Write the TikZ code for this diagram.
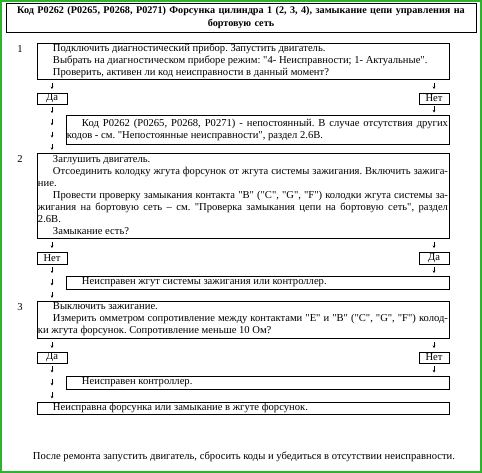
\documentclass[tikz,border=0pt]{standalone}
\usepackage{fontspec}
\setmainfont{Liberation Serif}[Ligatures=TeXOff]
\usepackage{xcolor}
\definecolor{frame-green}{RGB}{45,180,45}
\usetikzlibrary{positioning,arrows.meta,decorations.markings}
\frenchspacing

\begin{document}
\begin{tikzpicture}[
    every node/.style={inner sep=0pt, outer sep=0pt},
    bodyfont/.style={font=\fontsize{10.6}{12}\selectfont},
    stepbox/.style={
        bodyfont,
        draw=black,
        line width=0.8pt,
        anchor=north west,
        inner xsep=1pt,
        align=justify,
        execute at begin node={\parindent=15pt\relax\indent}
    },
    answer/.style={
        bodyfont,
        draw=black,
        line width=0.8pt,
        anchor=north west,
        minimum width=30pt,
        minimum height=11pt
    },
    arrowrun/.style={
        postaction={decorate},
        decoration={markings,
            mark=between positions {0.5/#1} and {1-0.25/#1} step {1/#1} with {
                \draw[line width=0.6pt, -{Stealth[length=2.5pt,width=2.5pt]}] (-3pt,0) -- (3pt,0);
            }
        }
    }
]

% Page frame
\node[
    draw=frame-green,
    line width=2pt,
    fill=white,
    minimum width=480pt,
    minimum height=471pt
] (page) at (0,0) {};
\coordinate (tl) at ([xshift=-1pt, yshift=1pt]page.north west);

% Title
\node[
    draw=black,
    line width=0.8pt,
    anchor=north,
    minimum width=470pt,
    minimum height=29pt,
    text width=464pt,
    align=center,
    font=\fontsize{10.2}{12.5}\selectfont\bfseries
] (title) at ([xshift=241pt, yshift=-3pt]tl) {Код P0262 (P0265, P0268, P0271) Форсунка цилиндра 1 (2, 3, 4), замыкание цепи управления на\\ бортовую сеть};

% Step 1
\node[stepbox, text width=410pt, minimum height=36pt] (s1) at ([xshift=37pt, yshift=-43pt]tl) {
Подключить диагностический прибор. Запустить двигатель.\par
Выбрать на диагностическом приборе режим: "4- Неисправности; 1- Актуальные".\par
Проверить, активен ли код неисправности в данный момент?};
\node[bodyfont, anchor=base] at ([xshift=-17pt, yshift=-10pt]s1.north west) {1};

\node[answer] (da1) at ([xshift=37pt, yshift=-93pt]tl) {Да};
\node[answer] (net1) at ([xshift=419pt, yshift=-93pt]tl) {Нет};

\node[stepbox, text width=381pt, minimum height=29pt] (kod) at ([xshift=66pt, yshift=-115pt]tl) {
Код P0262 (P0265, P0268, P0271) - непостоянный. В случае отсутствия других\linebreak
кодов - см. "Непостоянные неисправности", раздел 2.6В.};

% Step 2
\node[stepbox, text width=410pt, minimum height=85pt] (s2) at ([xshift=37pt, yshift=-153pt]tl) {
Заглушить двигатель.\par
Отсоединить колодку жгута форсунок от жгута системы зажигания. Включить зажига-\linebreak
ние.\par
Провести проверку замыкания контакта "B" ("C", "G", "F") колодки жгута системы за-\linebreak
жигания на бортовую сеть – см. "Проверка замыкания цепи на бортовую сеть", раздел\linebreak
2.6В.\par
Замыкание есть?};
\node[bodyfont, anchor=base] at ([xshift=-17pt, yshift=-10pt]s2.north west) {2};

\node[answer, minimum height=12pt] (net2) at ([xshift=37pt, yshift=-252pt]tl) {Нет};
\node[answer, minimum height=12pt] (da2) at ([xshift=419pt, yshift=-252pt]tl) {Да};

\node[stepbox, text width=381pt, minimum height=13pt] (zhgut) at ([xshift=66pt, yshift=-276pt]tl) {
Неисправен жгут системы зажигания или контроллер.};

% Step 3
\node[stepbox, text width=410pt, minimum height=37pt] (s3) at ([xshift=37pt, yshift=-301pt]tl) {
Выключить зажигание.\par
Измерить омметром сопротивление между контактами "E" и "B" ("C", "G", "F") колод-\linebreak
ки жгута форсунок. Сопротивление меньше 10 Ом?};
\node[bodyfont, anchor=base] at ([xshift=-17pt, yshift=-10pt]s3.north west) {3};

\node[answer] (da3) at ([xshift=37pt, yshift=-352pt]tl) {Да};
\node[answer] (net3) at ([xshift=419pt, yshift=-352pt]tl) {Нет};

\node[stepbox, text width=381pt, minimum height=13pt] (kontr) at ([xshift=66pt, yshift=-376pt]tl) {
Неисправен контроллер.};

\node[stepbox, text width=410pt, minimum height=12pt] (forsunka) at ([xshift=37pt, yshift=-402pt]tl) {
Неисправна форсунка или замыкание в жгуте форсунок.};

% Closing note
\node[bodyfont] (note) at ([xshift=244pt, yshift=-457pt]tl) {После ремонта запустить двигатель, сбросить коды и убедиться в отсутствии неисправности.};

% Arrow runs
\path[arrowrun=1] (da1.north |- s1.south) -- (da1.north);
\path[arrowrun=1] (net1.north |- s1.south) -- (net1.north);
\path[arrowrun=4] (da1.south) -- (da1.south |- s2.north);
\path[arrowrun=1] (net1.south) -- (net1.south |- kod.north);

\path[arrowrun=1] (net2.north |- s2.south) -- (net2.north);
\path[arrowrun=1] (da2.north |- s2.south) -- (da2.north);
\path[arrowrun=3] (net2.south) -- (net2.south |- s3.north);
\path[arrowrun=1] (da2.south) -- (da2.south |- zhgut.north);

\path[arrowrun=1] (da3.north |- s3.south) -- (da3.north);
\path[arrowrun=1] (net3.north |- s3.south) -- (net3.north);
\path[arrowrun=3] (da3.south) -- (da3.south |- forsunka.north);
\path[arrowrun=1] (net3.south) -- (net3.south |- kontr.north);

\end{tikzpicture}
\end{document}
